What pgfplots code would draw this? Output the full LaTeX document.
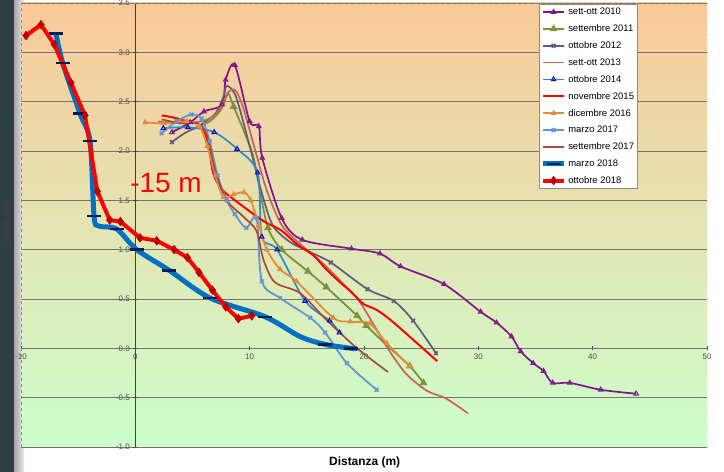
\documentclass[border=0pt]{standalone}
\usepackage{pgfplots}
\pgfplotsset{compat=1.18}
\usepackage{fontspec}
\setmainfont{Liberation Sans}
\definecolor{ctop}{RGB}{250,201,152}
\definecolor{cbot}{RGB}{204,255,204}
\definecolor{cdark}{RGB}{46,62,66}
\definecolor{c2010}{RGB}{128,20,140}
\definecolor{c2011}{RGB}{119,147,60}
\definecolor{c2012}{RGB}{100,88,130}
\definecolor{c2013}{RGB}{200,100,85}
\definecolor{c2014}{RGB}{40,140,205}
\definecolor{m2014}{RGB}{10,10,200}
\definecolor{c2015}{RGB}{255,0,0}
\definecolor{c2016}{RGB}{228,140,60}
\definecolor{c2017a}{RGB}{100,150,210}
\definecolor{c2017b}{RGB}{165,75,55}
\definecolor{c2018a}{RGB}{0,112,192}
\definecolor{m2018a}{RGB}{0,30,90}
\definecolor{c2018b}{RGB}{255,0,0}
\definecolor{m2018b}{RGB}{190,0,0}
\begin{document}
\begin{tikzpicture}[x=1bp,y=1bp]
\useasboundingbox (0,0) rectangle (724,472);
\fill[white] (0,0) rectangle (724,472);
\fill[cdark] (0,0) rectangle (14,472);
\shade[left color=black!35, right color=black!8] (14,0) rectangle (24,472);
\node[font=\fontsize{17}{20}\selectfont] at (368,447) {Lido di Volano 2};
\begin{axis}[
  at={(21bp,25bp)}, anchor=south west, scale only axis,
  width=686bp, height=444bp,
  xmin=-10, xmax=50, ymin=-1, ymax=3.5,
  axis lines=middle,
  axis line style={-, black!75, line width=0.5pt},
  axis background/.style={top color=ctop, bottom color=cbot},
  xtick={-10,10,20,30,40,50},
  ytick={-1,-0.5,0.5,1,1.5,2,2.5,3,3.5},
  extra x ticks={0}, extra y ticks={0},
  extra y tick style={yticklabel style={/pgf/number format/.cd, fixed, fixed zerofill, precision=1}},
  ymajorgrids,
  grid style={black!55, line width=0.5pt},
  tick align=center, major tick length=4bp,
  tick style={black!70, line width=0.4pt},
  /pgf/number format/assume math mode=true,
  ticklabel style={font=\fontsize{8}{9}\selectfont, text=black!70},
  yticklabel style={/pgf/number format/.cd, fixed, fixed zerofill, precision=1},
  xticklabel style={/pgf/number format/.cd, fixed, precision=0},
  xlabel={Distanza (m)},
  xlabel style={at={(axis description cs:0.501,-0.034)}, anchor=center, font=\bfseries\fontsize{12}{14}\selectfont},
  ylabel={Quota (m)},
  ylabel style={at={(axis description cs:-0.021,0.5)}, anchor=center, rotate=90, font=\bfseries\fontsize{10}{12}\selectfont, text=black!75},
  clip=true,
  legend style={at={(0.899,0.997)}, anchor=north east, draw=black!45, fill=white,
    font=\fontsize{9.5}{11}\selectfont, row sep=4.6bp, inner sep=1.5bp, cells={anchor=west}},
  legend image code/.code={\draw[mark indices={2}] plot coordinates {(0cm,0cm) (0.36cm,0cm) (0.72cm,0cm)};},
]
\draw[dashed, black!45] (rel axis cs:0,0) rectangle (rel axis cs:1,1);
% sett-ott 2010
\addplot[c2010, line width=1.7pt, smooth, mark=triangle, mark size=2.6pt, mark options={solid, fill=none, line width=1pt}] coordinates {
(3.2,2.19) (4.8,2.29) (6.0,2.40) (7.6,2.47) (7.9,2.72) (8.7,2.87) (10.0,2.30) (10.8,2.25) (11.1,1.93) (12.8,1.32) (14.6,1.10) (18.9,1.01) (21.4,0.96) (23.2,0.83) (27.0,0.65) (30.2,0.37) (31.6,0.26) (32.9,0.12) (33.7,-0.03) (34.8,-0.15) (35.7,-0.23) (36.5,-0.35) (38.0,-0.35) (40.7,-0.42) (43.8,-0.46)};
\addlegendentry{sett-ott 2010}
% settembre 2011
\addplot[c2011, line width=1.8pt, smooth, mark=triangle*, mark size=2.8pt, mark indices={5,9,10,11,12,13,14,16,17}] coordinates {
(5.0,2.22) (6.5,2.30) (7.5,2.42) (8.1,2.58) (8.6,2.45) (9.5,2.2) (10.3,1.95) (10.9,1.6) (11.6,1.22) (12.8,1.00) (15.1,0.78) (16.7,0.62) (19.4,0.33) (20.2,0.23) (22.0,0.03) (24.0,-0.18) (25.2,-0.35)};
\addlegendentry{settembre 2011}
% ottobre 2012
\addplot[c2012, line width=1.7pt, smooth, mark=x, mark size=2.6pt, mark indices={1,13,14,15,16,17}] coordinates {
(3.2,2.09) (4.3,2.18) (5.5,2.25) (7.0,2.38) (7.7,2.55) (8.0,2.66) (8.8,2.55) (10.0,2.05) (11.0,1.6) (12.0,1.25) (13.5,1.08) (15.2,0.98) (17.1,0.87) (20.3,0.60) (22.6,0.48) (24.3,0.28) (26.3,-0.05)};
\addlegendentry{ottobre 2012}
% sett-ott 2013
\addplot[c2013, line width=1.7pt, smooth, no marks] coordinates {
(2.0,2.30) (4.5,2.28) (6.5,2.33) (7.6,2.45) (8.0,2.58) (8.7,2.62) (9.4,2.45) (10.5,2.0) (11.5,1.6) (12.8,1.25) (14.5,1.05) (16.5,0.85) (18.8,0.58) (19.7,0.46) (21.1,0.19) (22.3,-0.04) (23.7,-0.26) (25.5,-0.43) (27.2,-0.51) (29.1,-0.66)};
\addlegendentry{sett-ott 2013}
% ottobre 2014
\addplot[c2014, line width=1.7pt, smooth, mark=triangle, mark size=2.6pt, mark options={solid, draw=m2014, fill=none, line width=1pt}] coordinates {
(2.45,2.23) (4.6,2.24) (6.9,2.19) (8.9,2.02) (10.7,1.78) (11.06,1.13) (12.4,1.00) (14.85,0.48) (17.0,0.28) (17.85,0.16)};
\addlegendentry{ottobre 2014}
% novembre 2015
\addplot[c2015, line width=2pt, smooth, no marks] coordinates {
(2.3,2.36) (3.3,2.34) (4.5,2.30) (5.8,2.25) (6.4,2.05) (6.8,1.78) (7.5,1.62) (8.6,1.51) (11.2,1.29) (12.7,1.20) (14.2,1.05) (15.6,0.94) (16.7,0.80) (17.9,0.67) (18.9,0.57) (19.95,0.45) (21.1,0.39) (22.6,0.26) (26.4,-0.13)};
\addlegendentry{novembre 2015}
% dicembre 2016
\addplot[c2016, line width=1.8pt, smooth, mark=triangle*, mark size=1.8pt] coordinates {
(0.85,2.29) (2.5,2.28) (4.5,2.30) (5.6,2.25) (6.3,2.05) (7.0,1.75) (7.7,1.53) (8.6,1.56) (9.5,1.58) (10.1,1.5) (10.8,1.25) (11.5,1.0) (12.66,0.80) (14.1,0.68) (17.3,0.31) (18.8,0.27) (20.5,0.25) (22.0,0.05) (24.0,-0.18)};
\addlegendentry{dicembre 2016}
% marzo 2017
\addplot[c2017a, line width=1.8pt, smooth, mark=x, mark size=2.6pt] coordinates {
(2.3,2.18) (3.6,2.30) (4.9,2.37) (5.8,2.33) (6.5,2.1) (7.2,1.75) (8.0,1.5) (8.7,1.36) (9.7,1.22) (10.6,1.32) (11.06,0.68) (12.66,0.51) (15.3,0.31) (16.6,0.16) (18.5,-0.15) (21.1,-0.42)};
\addlegendentry{marzo 2017}
% settembre 2017
\addplot[c2017b, line width=1.7pt, smooth, no marks] coordinates {
(2.3,2.32) (4.0,2.28) (5.5,2.28) (6.3,2.15) (7.0,1.8) (8.0,1.5) (9.4,1.34) (10.6,1.19) (11.2,0.9) (12.2,0.67) (14.4,0.56) (16.7,0.29) (19.4,0.0) (22.1,-0.24)};
\addlegendentry{settembre 2017}
% marzo 2018
\addplot[c2018a, line width=5pt, smooth, mark=-, mark size=7bp, mark options={draw=m2018a, line width=2.4pt}, mark indices={1,2,3,4,5,7,8,9,10,11,13,14}] coordinates {
(-6.94,3.19) (-6.35,2.89) (-4.84,2.38) (-3.96,2.10) (-3.61,1.34) (-3.2,1.24) (-1.63,1.21) (0.12,1.00) (2.97,0.79) (6.54,0.51) (11.35,0.32) (14.4,0.12) (16.6,0.04) (18.9,0.0) (19.4,0.0)};
\addlegendentry{marzo 2018}
% ottobre 2018
\addplot[c2018b, line width=4pt, mark=diamond*, mark size=4.4pt, mark options={draw=m2018b, fill=m2018b, line width=0.5pt}] coordinates {
(-9.56,3.17) (-8.25,3.28) (-7.09,3.08) (-5.63,2.69) (-4.40,2.36) (-3.32,1.59) (-2.24,1.30) (-1.31,1.285) (0.41,1.12) (1.87,1.09) (3.39,1.00) (4.55,0.92) (5.57,0.77) (6.74,0.59) (7.91,0.42) (9.01,0.30) (10.18,0.33)};
\addlegendentry{ottobre 2018}
\node[text=red, font=\fontsize{28}{32}\selectfont] at (axis cs:2.69,1.68) {-15 m};
\end{axis}
\end{tikzpicture}
\end{document}
